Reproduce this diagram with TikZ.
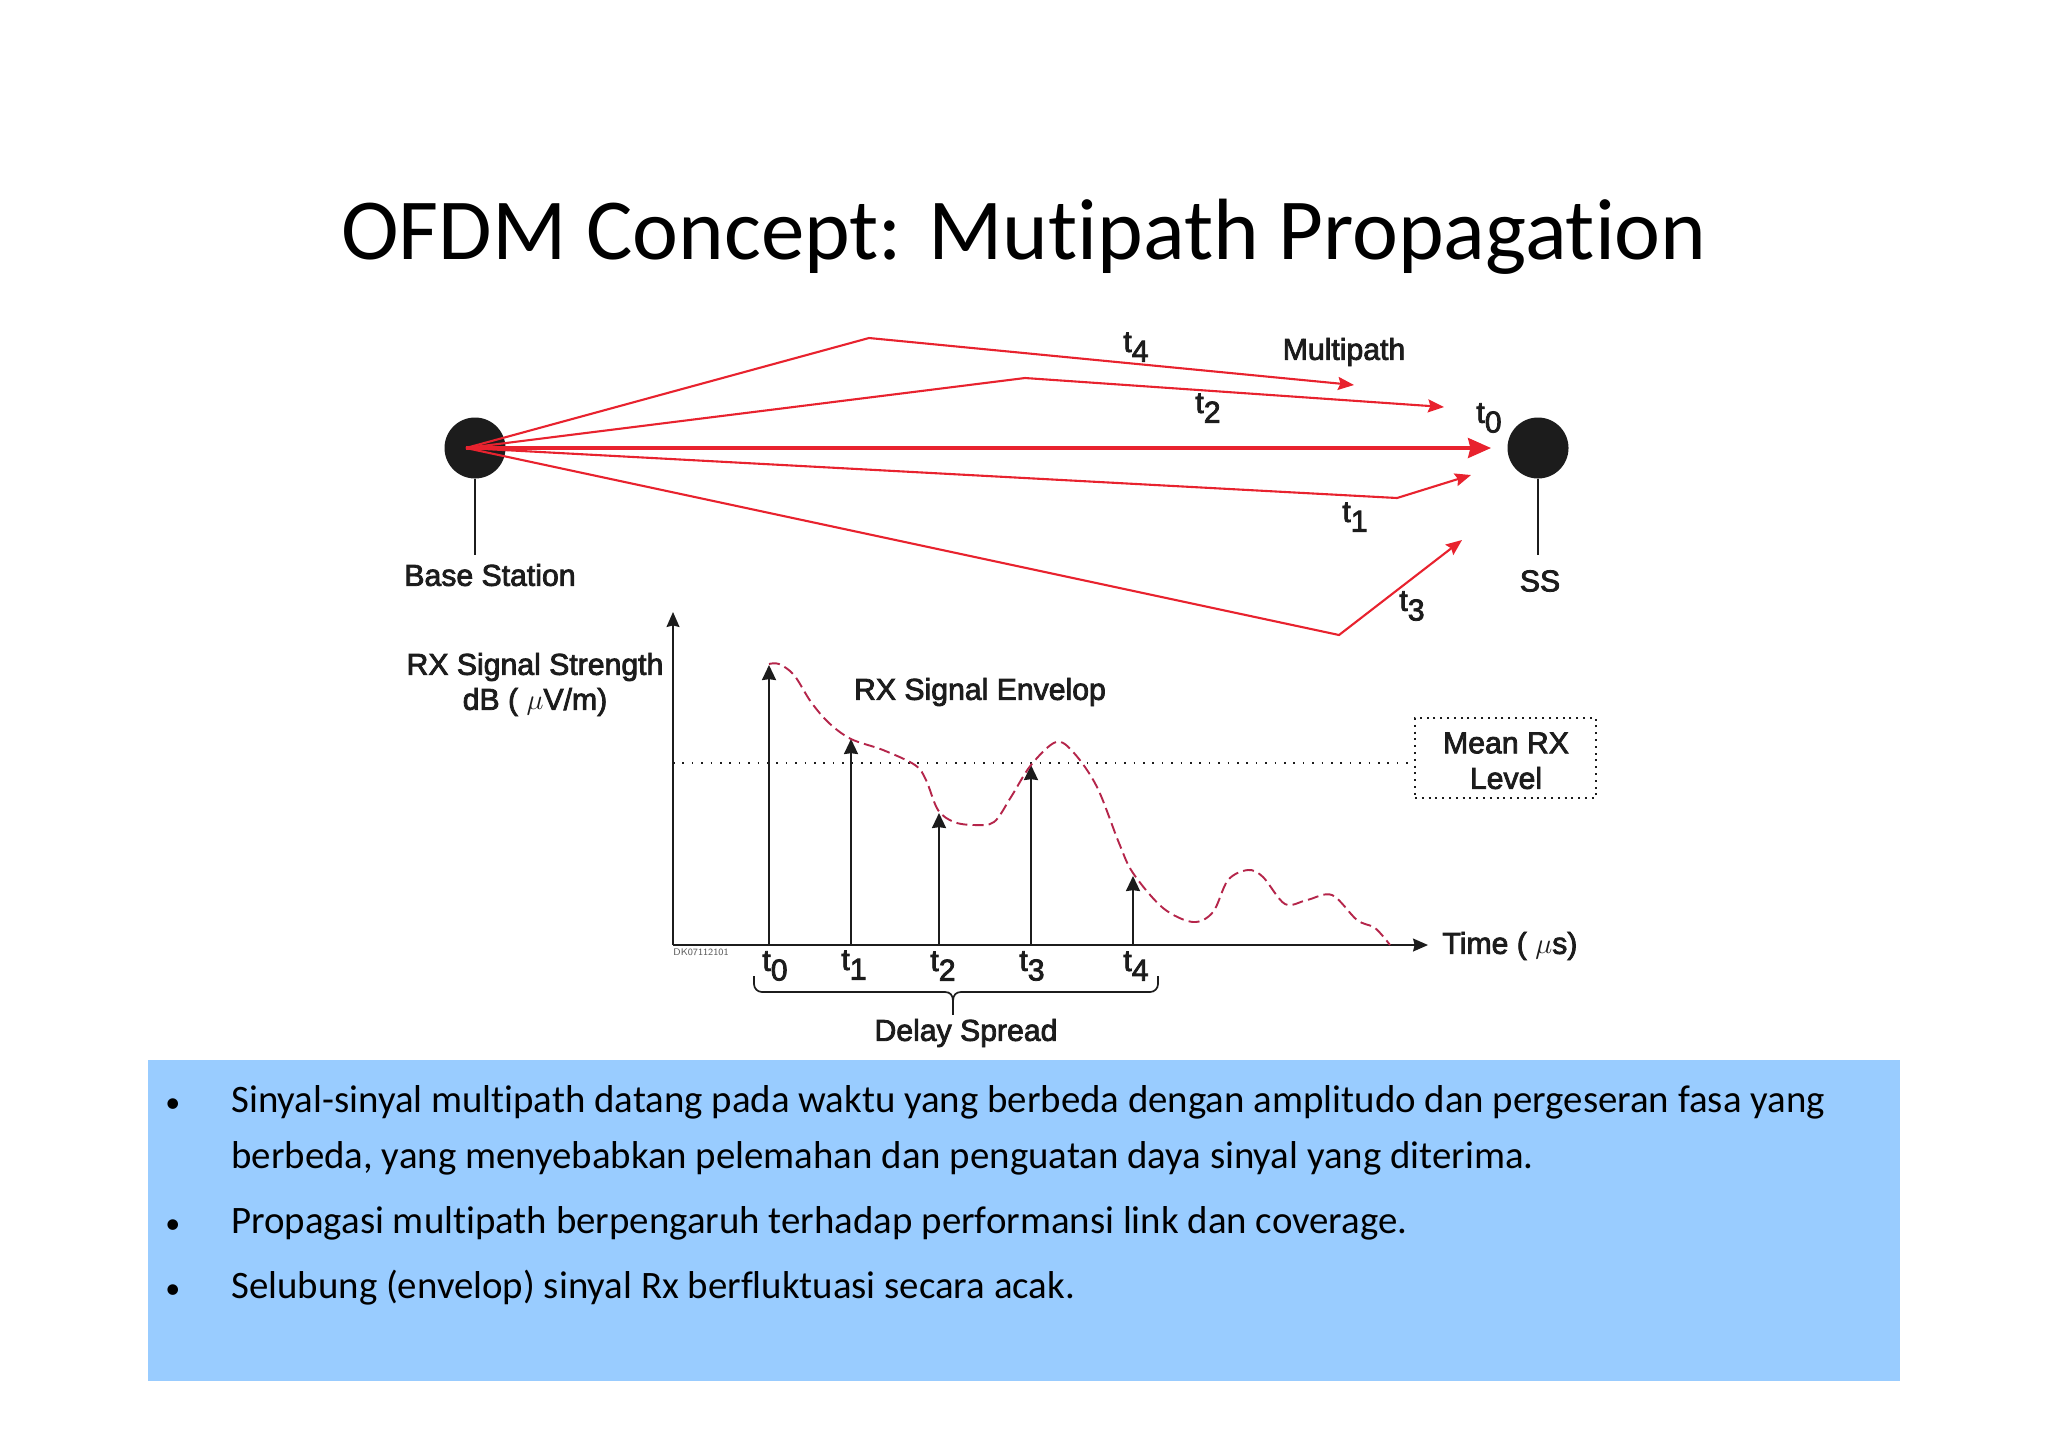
\documentclass[tikz,border=0pt]{standalone}
\usepackage{fontspec}
\setmainfont[Ligatures=NoCommon]{Carlito}
\newfontfamily\labfont[FakeBold=2.6]{Liberation Sans}
\usetikzlibrary{arrows.meta,calc}
\definecolor{rayred}{HTML}{E8222E}
\definecolor{panelblue}{HTML}{99CCFF}
\definecolor{inkdark}{HTML}{1C1C1C}
\definecolor{envred}{HTML}{B5254A}
\tikzset{
  px/.style={x=0.5pt,y=-0.5pt},
  station/.style={circle,fill=inkdark,minimum size=30.5pt,inner sep=0pt},
  ray/.style={draw=rayred,line width=1.05pt,-{Stealth[length=8pt,width=6.5pt,inset=1.2pt]}},
  mainray/.style={draw=rayred,line width=1.6pt,-{Stealth[length=11.5pt,width=10pt,inset=1.2pt]}},
  blackline/.style={draw=inkdark,line width=0.8pt},
  vec/.style={draw=inkdark,line width=0.95pt,-{Stealth[length=7.5pt,width=7pt,inset=0.4pt]}},
  axisline/.style={draw=inkdark,line width=0.7pt,-{Stealth[length=7.5pt,width=6.5pt,inset=0.8pt]}},
  lab/.style={inner sep=0pt,text=inkdark,font=\labfont\fontsize{15.1}{18}\selectfont,align=center},
  bodytext/.style={inner sep=0pt,anchor=base west,text=black,font=\fontsize{19.43}{23}\selectfont},
  bullettext/.style={inner sep=0pt,anchor=base west,text=black,font=\fontsize{15}{18}\selectfont},
  meanbox/.style={draw=inkdark,line width=0.7pt,dash pattern=on 1pt off 2.4pt,inner sep=0pt},
  meanline/.style={draw=inkdark,line width=0.6pt,dash pattern=on 0.8pt off 3.9pt},
}
\newcommand{\tsub}[1]{t\raisebox{-0.32em}{#1}}
\begin{document}
\begin{tikzpicture}[px]
\useasboundingbox (0,0) rectangle (2048,1447);
\fill[white] (0,0) rectangle (2048,1447);
\node[anchor=center,inner sep=0pt,font=\fontsize{43.5}{52}\selectfont] (title) at (1024,237) {OFDM Concept: Mutipath Propagation};

% stations
\node[station] (bs) at (475,448) {};
\node[station] (ss) at (1538,448) {};
\coordinate (bsfoot) at (475,555);
\coordinate (ssfoot) at (1538,555);
\draw[blackline] (bs.south) -- (bsfoot);
\draw[blackline] (ss.south) -- (ssfoot);
\node[lab] (bslabel) at (490,575) {Base Station};
\node[lab] (sslabel) at (1540,581) {SS};

% rays
\coordinate (src) at (466,448);
\coordinate (p4) at (869,338); \coordinate (e4) at (1354,385);
\coordinate (p2) at (1025,378); \coordinate (e2) at (1444,407);
\coordinate (e0) at (1491,448);
\coordinate (p1) at (1397,498); \coordinate (e1) at (1471,475);
\coordinate (p3) at (1339,635); \coordinate (e3) at (1462,540);
\draw[ray] (src) -- (p4) -- (e4);
\draw[ray] (src) -- (p2) -- (e2);
\draw[ray] (src) -- (p1) -- (e1);
\draw[ray] (src) -- (p3) -- (e3);
\draw[mainray] (src) -- (e0);
\node[lab] (lt4) at (1136,347) {\tsub{4}};
\node[lab] (lt2) at (1208,408) {\tsub{2}};
\node[lab] (lt0) at (1489,418) {\tsub{0}};
\node[lab] (lt1) at (1355,517) {\tsub{1}};
\node[lab] (lt3) at (1412,606) {\tsub{3}};
\node[lab] (multipath) at (1344,352) {Multipath};

% chart
\coordinate (origin) at (673,945);
\coordinate (ytip) at (673,612);
\coordinate (xtip) at (1428,945);
\draw[axisline] (origin) -- (ytip);
\draw[axisline] (origin) -- (xtip);
\node[lab] (ylab) at (535,667) {RX Signal Strength};
\node[lab] (ylab2) at (535,702) {dB ( $\mu$V/m)};
\node[lab] (envlab) at (980,692) {RX Signal Envelop};
\node[lab,anchor=west] (timelab) at (1442,946) {Time ( $\mu$s)};
\node[inner sep=0pt,anchor=west,text=black!65,font=\fontsize{4.8}{6}\selectfont\sffamily] (code) at (673,952) {DK07112101};

% mean level
\node[meanbox,minimum width=90.5pt,minimum height=40pt] (mean) at (1505.5,758) {};
\node[lab] (mean1) at (1506,743) {Mean RX};
\node[lab] (mean2) at (1506,778) {Level};
\coordinate (meanstart) at (673,763);
\draw[meanline] (meanstart) -- (mean.west |- meanstart);

% vectors
\foreach \n/\x/\y in {0/769/665,1/851/739,2/939/813,3/1031/765,4/1133/876}{
  \coordinate (b\n) at (\x,945);
  \coordinate (a\n) at (\x,\y);
  \draw[vec] (b\n) -- (a\n);
}
% envelope
\draw[envred,line width=0.95pt,dash pattern=on 5.5pt off 2.6pt] plot[smooth,tension=0.55] coordinates {
(769,664)(779,664)(794,675)(811,702)(829,723)(851,739)(883,750)(915,765)(926,780)(938,810)(954,822)(974,825)(994,822)(1011,797)(1031,765)(1056,742)(1074,753)(1097,787)(1119,843)(1133,873)(1163,908)(1193,922)(1213,912)(1228,880)(1248,870)(1263,877)(1285,904)(1307,900)(1332,895)(1357,920)(1375,928)(1390,945)};

\node[lab] (tl0) at (775,966) {\tsub{0}};
\node[lab] (tl1) at (854,965) {\tsub{1}};
\node[lab] (tl2) at (943,966) {\tsub{2}};
\node[lab] (tl3) at (1032,966) {\tsub{3}};
\node[lab] (tl4) at (1136,966) {\tsub{4}};

% brace
\coordinate (bl) at (754,976); \coordinate (br) at (1158,976); \coordinate (bm) at (953,992); \coordinate (bst) at (953,1015);
\draw[inkdark,line width=0.85pt,rounded corners=4pt] (bl) -- (bl |- bm) -- (945,992);
\draw[inkdark,line width=0.85pt,rounded corners=4pt] (br) -- (br |- bm) -- (961,992);
\draw[inkdark,line width=0.85pt] (945,992) .. controls (950,992) and (953,995) .. (953,1001) .. controls (953,995) and (956,992) .. (961,992);
\draw[inkdark,line width=0.85pt] (953,1000) -- (bst);
\node[lab] (delay) at (966,1033) {Delay Spread};

% panel
\node[fill=panelblue,anchor=north west,minimum width=876pt,minimum height=160.5pt,inner sep=0pt] (panel) at (148,1060) {};
\node[bodytext] (t1) at (231,1112) {Sinyal-sinyal multipath datang pada waktu yang berbeda dengan amplitudo dan pergeseran fasa yang};
\node[bodytext] (t2) at (231,1168) {berbeda, yang menyebabkan pelemahan dan penguatan daya sinyal yang diterima.};
\node[bodytext] (t3) at (231,1233) {Propagasi multipath berpengaruh terhadap performansi link dan coverage.};
\node[bodytext] (t4) at (231,1298) {Selubung (envelop) sinyal Rx berfluktuasi secara acak.};
\node[bullettext] (b1) at (165,1112) {•};
\node[bullettext] (b2) at (165,1233) {•};
\node[bullettext] (b3) at (165,1298) {•};
\end{tikzpicture}
\end{document}
